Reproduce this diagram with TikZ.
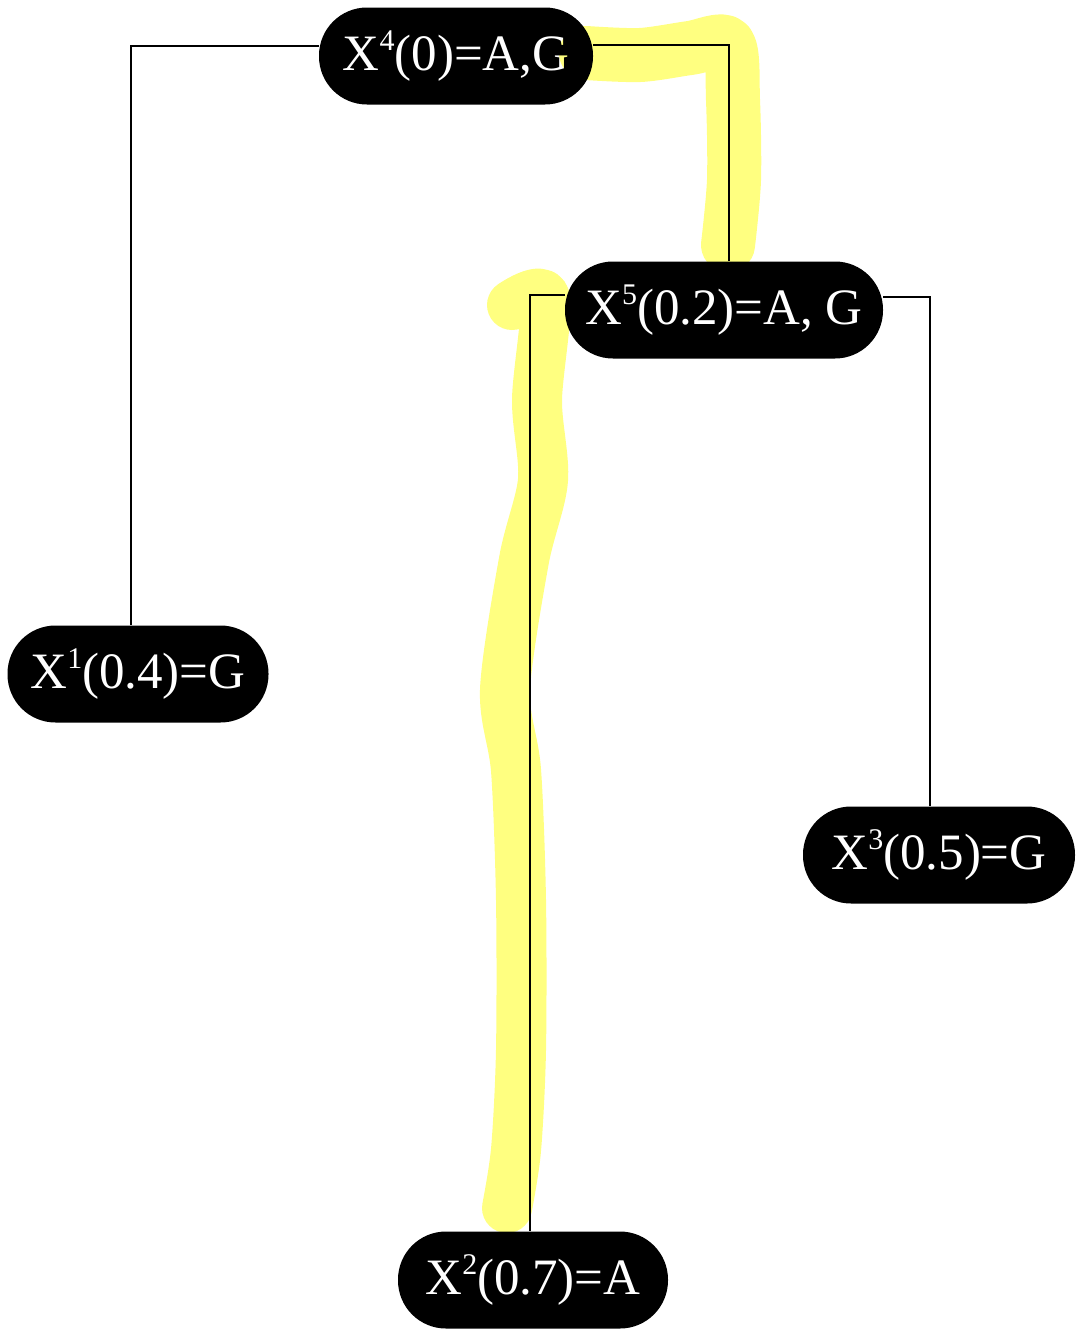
\documentclass[tikz,border=0pt]{standalone}
\usepackage{fontspec}
\setmainfont{Liberation Serif}
\usetikzlibrary{backgrounds}
\definecolor{hl}{RGB}{255,255,128}
% small raised index after X
\newcommand{\idx}[1]{\raisebox{20pt}{\fontsize{30}{30}\selectfont #1}}
\begin{document}
\begin{tikzpicture}[x=1pt,y=-1pt,
  leaf/.style={fill=black,text=white,inner sep=0pt,
    rounded corners=48pt,minimum height=97pt,
    font=\fontsize{51}{60}\selectfont},
  edge/.style={line width=2pt,black},
  marker/.style={hl,line width=54pt,line cap=round,line join=round}]
\useasboundingbox (0,0) rectangle (1076,1331);

% tree nodes
\node[leaf,minimum width=274pt] (n4) at (456,56)  {X\idx{4}(0)=A,G};
\node[leaf,minimum width=318pt] (n5) at (724,310) {X\idx{5}(0.2)=A, G};
\node[leaf,minimum width=261pt] (n1) at (138,674) {X\idx{1}(0.4)=G};
\node[leaf,minimum width=272pt] (n3) at (939,855) {X\idx{3}(0.5)=G};
\node[leaf,minimum width=270pt] (n2) at (533,1280) {X\idx{2}(0.7)=A};

% elbow connectors
\begin{pgfonlayer}{background}
\draw[edge] ([yshift=10pt]n4.west) -| ([xshift=-7pt]n1.north);
\draw[edge] ([yshift=11pt]n4.east) -| ([xshift=5pt]n5.north);
\draw[edge] ([yshift=15pt]n5.west) -| ([xshift=-3pt]n2.north);
\draw[edge] ([yshift=13pt]n5.east) -| ([xshift=-9pt]n3.north);
\end{pgfonlayer}

% highlighter strokes along the path to X2
\begin{scope}[blend mode=multiply]
\draw[marker] plot[smooth,tension=0.5] coordinates
  {(586,53) (640,55) (690,48) (728,44) (733,100) (734,180) (728,245)};
\draw[marker,line width=50pt] plot[smooth,tension=0.5] coordinates
  {(512,305) (545,298) (537,400) (543,480) (524,560) (505,690)
   (516,770) (521,900) (521,1050) (516,1150) (507,1208)};
\end{scope}
\end{tikzpicture}
\end{document}
